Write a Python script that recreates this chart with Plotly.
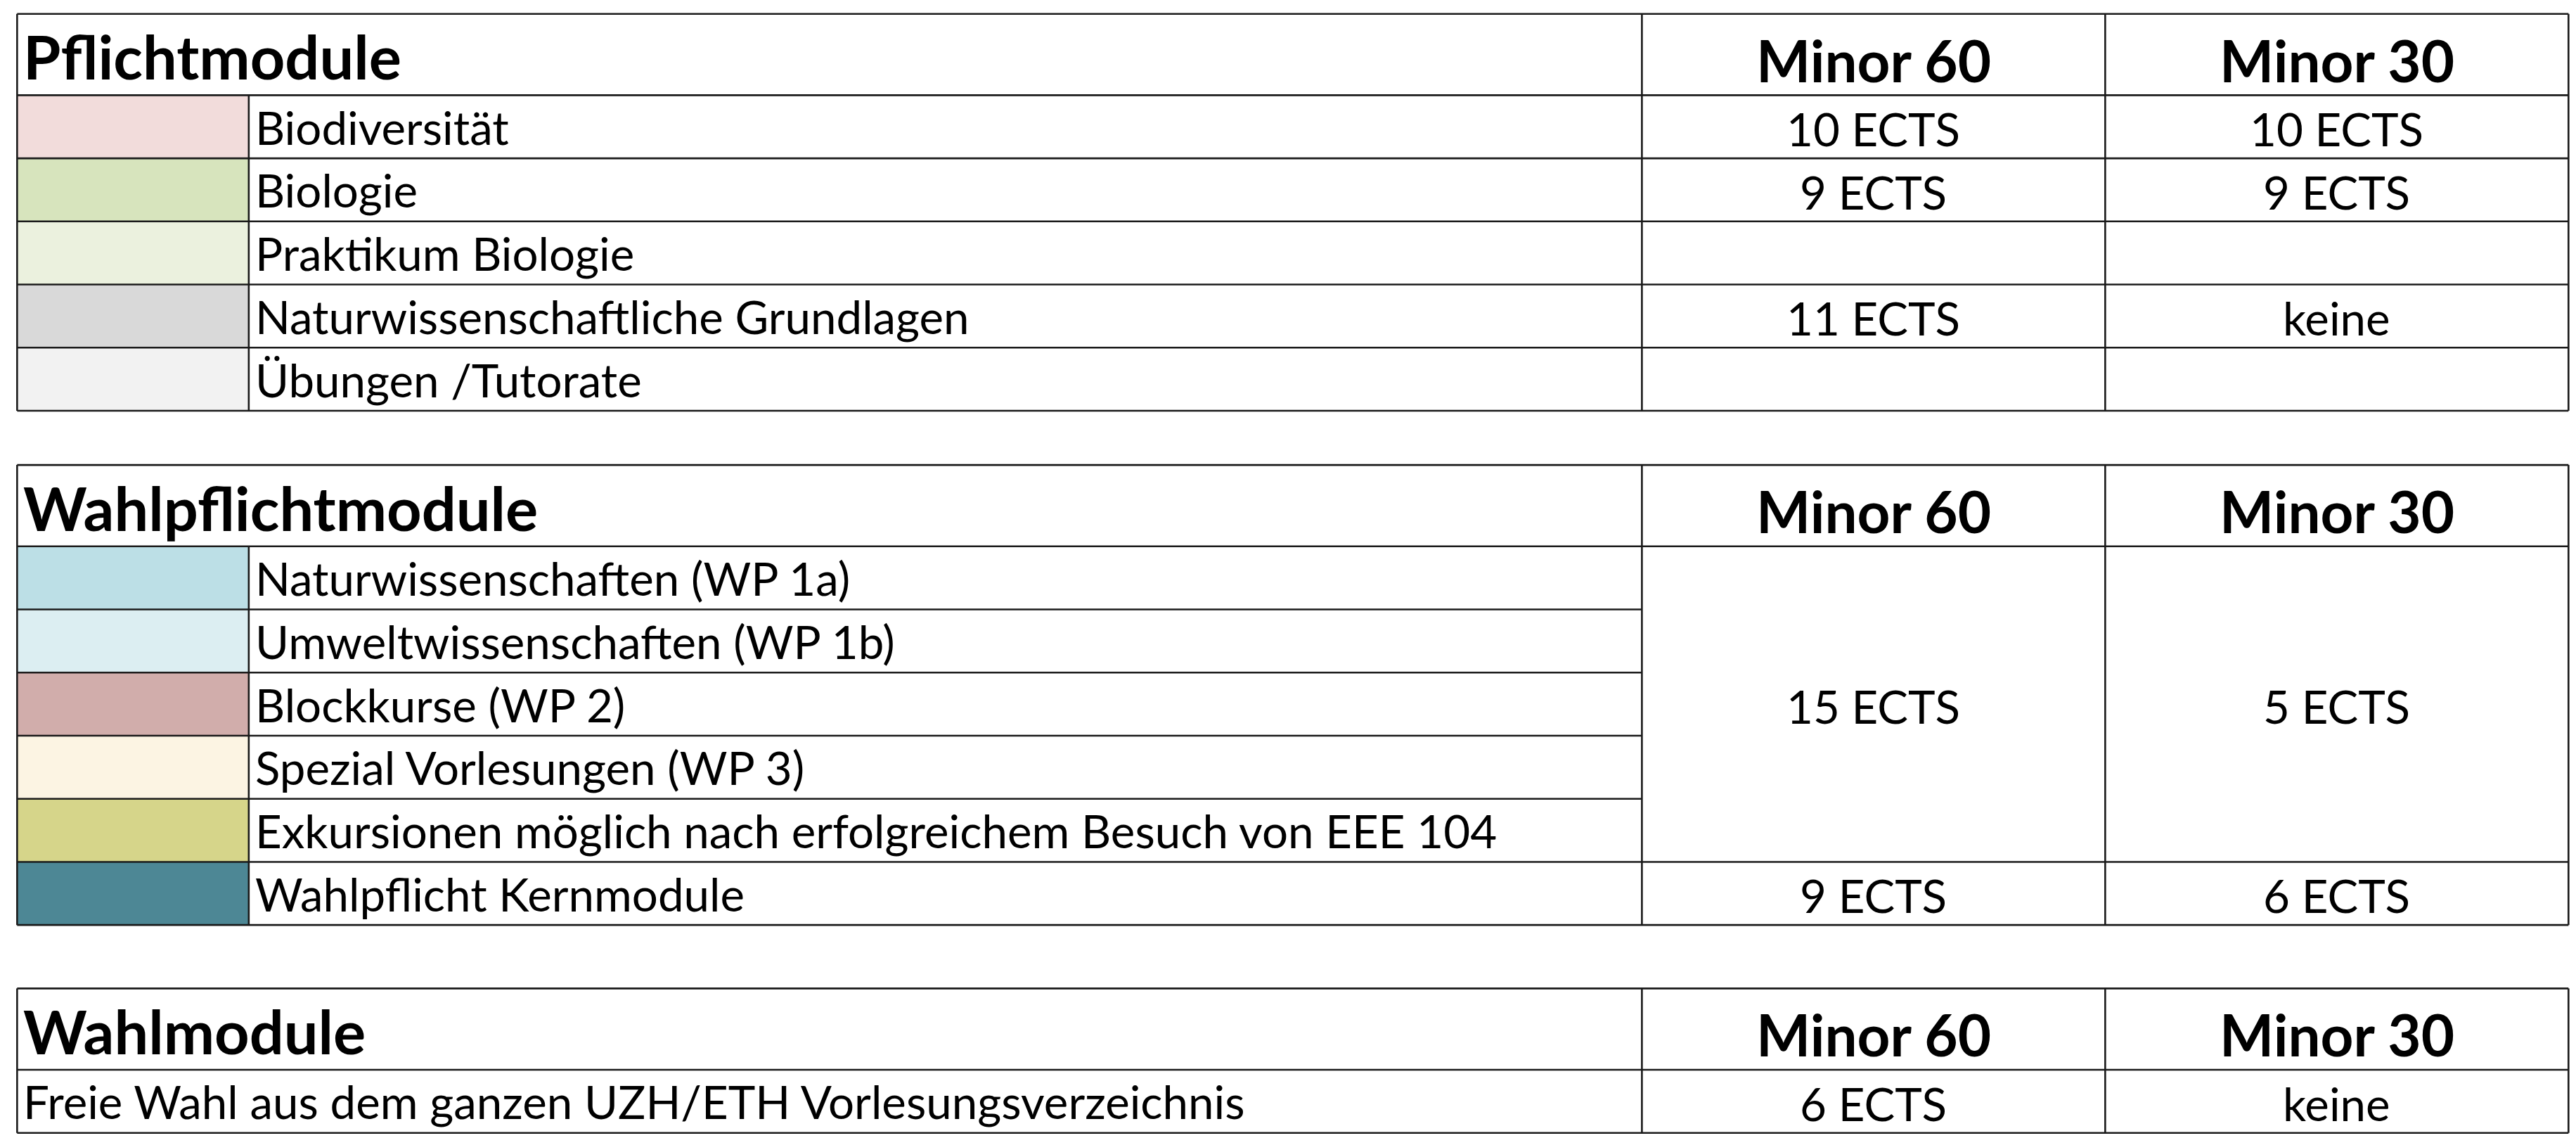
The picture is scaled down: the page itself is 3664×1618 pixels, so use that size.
import plotly.graph_objects as go

# ---- data ----
sections = ["Pflichtmodule", "Wahlpflichtmodule", "Wahlmodule"]
col_headers = ["Minor 60", "Minor 30"]
pflicht_labels = ["Biodiversität", "Biologie", "Praktikum Biologie",
                  "Naturwissenschaftliche Grundlagen", "Übungen /Tutorate"]
pflicht_colors = ["#F2DCDB", "#D7E4BD", "#EBF1DE", "#D9D9D9", "#F2F2F2"]
pflicht_m60 = ["10 ECTS", "9 ECTS", "", "11 ECTS", ""]
pflicht_m30 = ["10 ECTS", "9 ECTS", "", "keine", ""]
wp_labels = ["Naturwissenschaften (WP 1a)", "Umweltwissenschaften (WP 1b)",
             "Blockkurse (WP 2)", "Spezial Vorlesungen (WP 3)",
             "Exkursionen möglich nach erfolgreichem Besuch von EEE 104",
             "Wahlpflicht Kernmodule"]
wp_colors = ["#BCDFE6", "#DCEEF2", "#D1ADAB", "#FCF4E3", "#D6D58A", "#4D8795"]
wp_merged_m60 = "15 ECTS"
wp_merged_m30 = "5 ECTS"
wp_kern_m60 = "9 ECTS"
wp_kern_m30 = "6 ECTS"
wahl_label = "Freie Wahl aus dem ganzen UZH/ETH Vorlesungsverzeichnis"
wahl_m60 = "6 ECTS"
wahl_m30 = "keine"

# ---- layout geometry (display units, scaled) ----
S = 3664 / 1568
X0, XS, XL, XM, XR = 7, 148, 996, 1278, 1560
HDR, ROW = 49.5, 38.4
FONT = "Lato"
LW = 2.6

shapes, ann = [], []

def line(x0, y0, x1, y1):
    shapes.append(dict(type="line", xref="x", yref="y", x0=x0*S, y0=y0*S, x1=x1*S, y1=y1*S,
                       line=dict(color="#1a1a1a", width=LW), layer="above"))

def rect(x0, y0, x1, y1, color):
    shapes.append(dict(type="rect", xref="x", yref="y", x0=x0*S, y0=y0*S, x1=x1*S, y1=y1*S,
                       fillcolor=color, line=dict(width=0), layer="below"))

def text(x, y, s, size=28, bold=False, anchor="left"):
    ann.append(dict(x=x*S, y=y*S, xref="x", yref="y", text=f"<b>{s}</b>" if bold else s,
                    showarrow=False, xanchor=anchor, yanchor="middle",
                    font=dict(family=FONT, size=size*S, color="black")))

def header(top, title):
    text(X0 + 3, top + HDR/2 + 1, title, size=37, bold=True)
    text((XL+XM)/2, top + HDR/2 + 3, col_headers[0], size=35, bold=True, anchor="center")
    text((XM+XR)/2, top + HDR/2 + 3, col_headers[1], size=35, bold=True, anchor="center")

# Table 1
t = 5
header(t, sections[0])
n = len(pflicht_labels)
bot = t + HDR + n*ROW
for i, lab in enumerate(pflicht_labels):
    y0 = t + HDR + i*ROW
    rect(X0, y0, XS, y0+ROW, pflicht_colors[i])
    text(XS + 3, y0 + ROW/2, lab)
    text((XL+XM)/2, y0 + ROW/2 + 1, pflicht_m60[i], anchor="center")
    text((XM+XR)/2, y0 + ROW/2 + 1, pflicht_m30[i], anchor="center")
    line(X0, y0, XR, y0)
line(X0, t, XR, t); line(X0, bot, XR, bot)
line(X0, t, X0, bot); line(XR, t, XR, bot)
line(XL, t, XL, bot); line(XM, t, XM, bot)
line(XS, t+HDR, XS, bot)

# Table 2
t = 279.5
header(t, sections[1])
n = len(wp_labels)
bot = t + HDR + n*ROW
for i, lab in enumerate(wp_labels):
    y0 = t + HDR + i*ROW
    rect(X0, y0, XS, y0+ROW, wp_colors[i])
    text(XS + 3, y0 + ROW/2, lab)
    line(X0, y0, XL if 0 < i < n-1 else XR, y0)
m_top, m_bot = t + HDR, t + HDR + (n-1)*ROW
text((XL+XM)/2, (m_top+m_bot)/2 + 1, wp_merged_m60, anchor="center")
text((XM+XR)/2, (m_top+m_bot)/2 + 1, wp_merged_m30, anchor="center")
yk = m_bot + ROW/2 + 1
text((XL+XM)/2, yk, wp_kern_m60, anchor="center")
text((XM+XR)/2, yk, wp_kern_m30, anchor="center")
line(X0, t, XR, t); line(X0, bot, XR, bot)
line(X0, t, X0, bot); line(XR, t, XR, bot)
line(XL, t, XL, bot); line(XM, t, XM, bot)
line(XS, t+HDR, XS, bot)

# Table 3
t = 598
header(t, sections[2])
bot = t + HDR + ROW
text(X0 + 3, t + HDR + ROW/2, wahl_label)
text((XL+XM)/2, t + HDR + ROW/2 + 1, wahl_m60, anchor="center")
text((XM+XR)/2, t + HDR + ROW/2 + 1, wahl_m30, anchor="center")
line(X0, t, XR, t); line(X0, t+HDR, XR, t+HDR); line(X0, bot, XR, bot)
line(X0, t, X0, bot); line(XR, t, XR, bot)
line(XL, t, XL, bot); line(XM, t, XM, bot)

fig = go.Figure()
fig.update_layout(
    width=3664, height=1618, margin=dict(l=0, r=0, t=0, b=0),
    paper_bgcolor="white", plot_bgcolor="white",
    xaxis=dict(range=[0, 3664], visible=False, fixedrange=True),
    yaxis=dict(range=[1618, 0], visible=False, fixedrange=True),
    shapes=shapes, annotations=ann, showlegend=False,
)
fig.write_html("out.html", config=dict(displayModeBar=False))
